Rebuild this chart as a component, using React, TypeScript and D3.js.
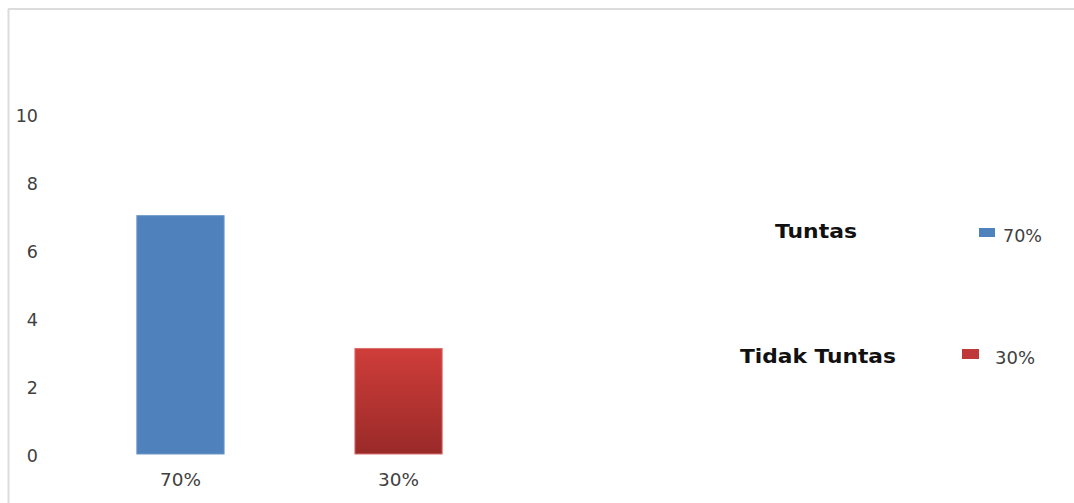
import React from "react";
import * as d3 from "d3";

const categories = ["70%", "30%"];
const values = [7, 3.1];
const yTicks = [0, 2, 4, 6, 8, 10];
const legendNames = ["Tuntas", "Tidak Tuntas"];
const legendValues = ["70%", "30%"];

const W = 1074;
const H = 503;
const FONT = "'DejaVu Sans', 'Open Sans', sans-serif";

export default function App() {
  const x = d3.scaleBand<string>().domain(categories).range([6, 573]).paddingInner(0.6).paddingOuter(0.6);
  const y = d3.scaleLinear().domain([0, 10]).range([454, 113.5]);

  return (
    <svg width={W} height={H} style={{ position: "absolute", left: 0, top: 0 }}>
      <defs>
        <linearGradient id="redGrad" x1="0" y1="0" x2="0" y2="1">
          <stop offset="0%" stopColor="#cf3d3a" />
          <stop offset="100%" stopColor="#992a28" />
        </linearGradient>
      </defs>
      <rect x={0} y={0} width={W} height={H} fill="#fff" />
      <line x1={8} y1={9} x2={W} y2={9} stroke="#dcdcdc" strokeWidth={2} />
      <line x1={8.5} y1={9} x2={8.5} y2={H} stroke="#dcdcdc" strokeWidth={2} />
      {yTicks.map((t) => (
        <text key={t} x={38} y={y(t) + 2} dy="0.35em" textAnchor="end" fontFamily={FONT} fontSize={17.5} fill="#404040">
          {t}
        </text>
      ))}
      {categories.map((c, i) => (
        <g key={c}>
          <rect
            x={x(c)}
            y={y(values[i])}
            width={x.bandwidth()}
            height={y(0) - y(values[i])}
            fill={i === 0 ? "#4f81bd" : "url(#redGrad)"}
            stroke={i === 0 ? "#6d96c9" : "#d9706e"}
            strokeWidth={1}
          />
          <text
            x={(x(c) as number) + x.bandwidth() / 2}
            y={480}
            dy="0.35em"
            textAnchor="middle"
            fontFamily={FONT}
            fontSize={17}
            fill="#404040"
            textLength={41}
            lengthAdjust="spacingAndGlyphs"
          >
            {c}
          </text>
        </g>
      ))}
      <text x={775} y={231} dy="0.35em" fontFamily={FONT} fontSize={20} fontWeight="bold" fill="#111" textLength={82} lengthAdjust="spacingAndGlyphs">
        {legendNames[0]}
      </text>
      <rect x={979} y={228} width={16} height={9} fill="#4f81bd" />
      <text x={1003} y={236} dy="0.35em" fontFamily={FONT} fontSize={17} fill="#404040" textLength={39} lengthAdjust="spacingAndGlyphs">
        {legendValues[0]}
      </text>
      <text x={740} y={356} dy="0.35em" fontFamily={FONT} fontSize={20} fontWeight="bold" fill="#111" textLength={156} lengthAdjust="spacingAndGlyphs">
        {legendNames[1]}
      </text>
      <rect x={962} y={349} width={17} height={10} fill="#c0393a" />
      <text x={995} y={358} dy="0.35em" fontFamily={FONT} fontSize={17} fill="#404040" textLength={40} lengthAdjust="spacingAndGlyphs">
        {legendValues[1]}
      </text>
    </svg>
  );
}
